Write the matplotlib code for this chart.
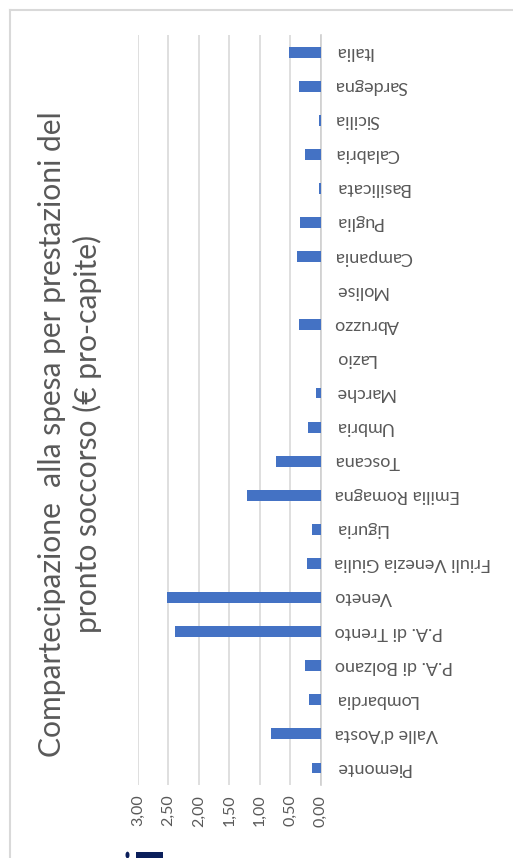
import matplotlib
matplotlib.use("Agg")
import matplotlib.pyplot as plt
from matplotlib.patches import Rectangle, Circle
from matplotlib.lines import Line2D

plt.rcParams['font.family'] = ['Lato', 'DejaVu Sans']

regioni = ["Piemonte", "Valle d'Aosta", "Lombardia", "P.A. di Bolzano", "P.A. di Trento",
           "Veneto", "Friuli Venezia Giulia", "Liguria", "Emilia Romagna", "Toscana",
           "Umbria", "Marche", "Lazio", "Abruzzo", "Molise", "Campania", "Puglia",
           "Basilicata", "Calabria", "Sicilia", "Sardegna", "Italia"]
valori = [0.14, 0.82, 0.19, 0.25, 2.40, 2.53, 0.23, 0.14, 1.21, 0.73,
          0.21, 0.08, 0.00, 0.36, 0.00, 0.38, 0.34, 0.02, 0.25, 0.02, 0.36, 0.51]
tick_vals = [0.0, 0.5, 1.0, 1.5, 2.0, 2.5, 3.0]
tick_labels = ["0,00", "0,50", "1,00", "1,50", "2,00", "2,50", "3,00"]
titolo = "Compartecipazione  alla spesa per prestazioni del\npronto soccorso (€ pro-capite)"

W, H = 513, 858
fig = plt.figure(figsize=(W / 100, H / 100), dpi=100)
fig.patch.set_facecolor("white")

grey_txt = "#595959"
grid_col = "#D9D9D9"

# plot area in pixel coordinates
x0, x1, ytop, ybot = 138, 320.5, 35, 785
ax = fig.add_axes([x0 / W, 1 - ybot / H, (x1 - x0) / W, (ybot - ytop) / H])

pos = list(range(len(regioni)))
ax.barh(pos, valori, height=0.32, color="#4472C4", zorder=3)

ax.set_xlim(3, 0)
ax.set_ylim(-0.5, len(regioni) - 0.5)

ax.set_xticks(tick_vals)
ax.set_xticklabels(tick_labels, rotation=90, color=grey_txt, fontsize=11.5)
ax.tick_params(axis="x", length=0, pad=7)
ax.grid(axis="x", color=grid_col, linewidth=1.2, zorder=0)

ax.yaxis.tick_right()
ax.set_yticks(pos)
ax.set_yticklabels(regioni, rotation=180, color=grey_txt, fontsize=13,
                   ha="left", va="center")
ax.tick_params(axis="y", length=0, pad=10)

for s in ["left", "top", "bottom"]:
    ax.spines[s].set_visible(False)
ax.spines["right"].set_color("#CFCFCF")
ax.spines["right"].set_linewidth(1.2)
ax.set_facecolor("none")

# chart title
fig.text(70 / W, 1 - 434 / H, titolo, rotation=90, ha="center", va="center",
         fontsize=21.6, color=grey_txt, linespacing=1.25, multialignment="center")

# chart-area frame (left and top edges)
fig.add_artist(Line2D([9.5 / W, 9.5 / W], [0, 1 - 9.5 / H], transform=fig.transFigure,
                      color=grid_col, linewidth=1.5))
fig.add_artist(Line2D([9.5 / W, 1], [1 - 9.5 / H, 1 - 9.5 / H], transform=fig.transFigure,
                      color=grid_col, linewidth=1.5))

# logo fragment at the lower edge
navy = "#0B1F5B"
fig.add_artist(Rectangle((136 / W, 0), 27 / W, 6 / H, transform=fig.transFigure,
                         color=navy, linewidth=0))
fig.add_artist(Circle((127.5 / W, 3 / H), 2 / W, transform=fig.transFigure,
                      color=navy, linewidth=0))

fig.savefig("out.png", dpi=100)
